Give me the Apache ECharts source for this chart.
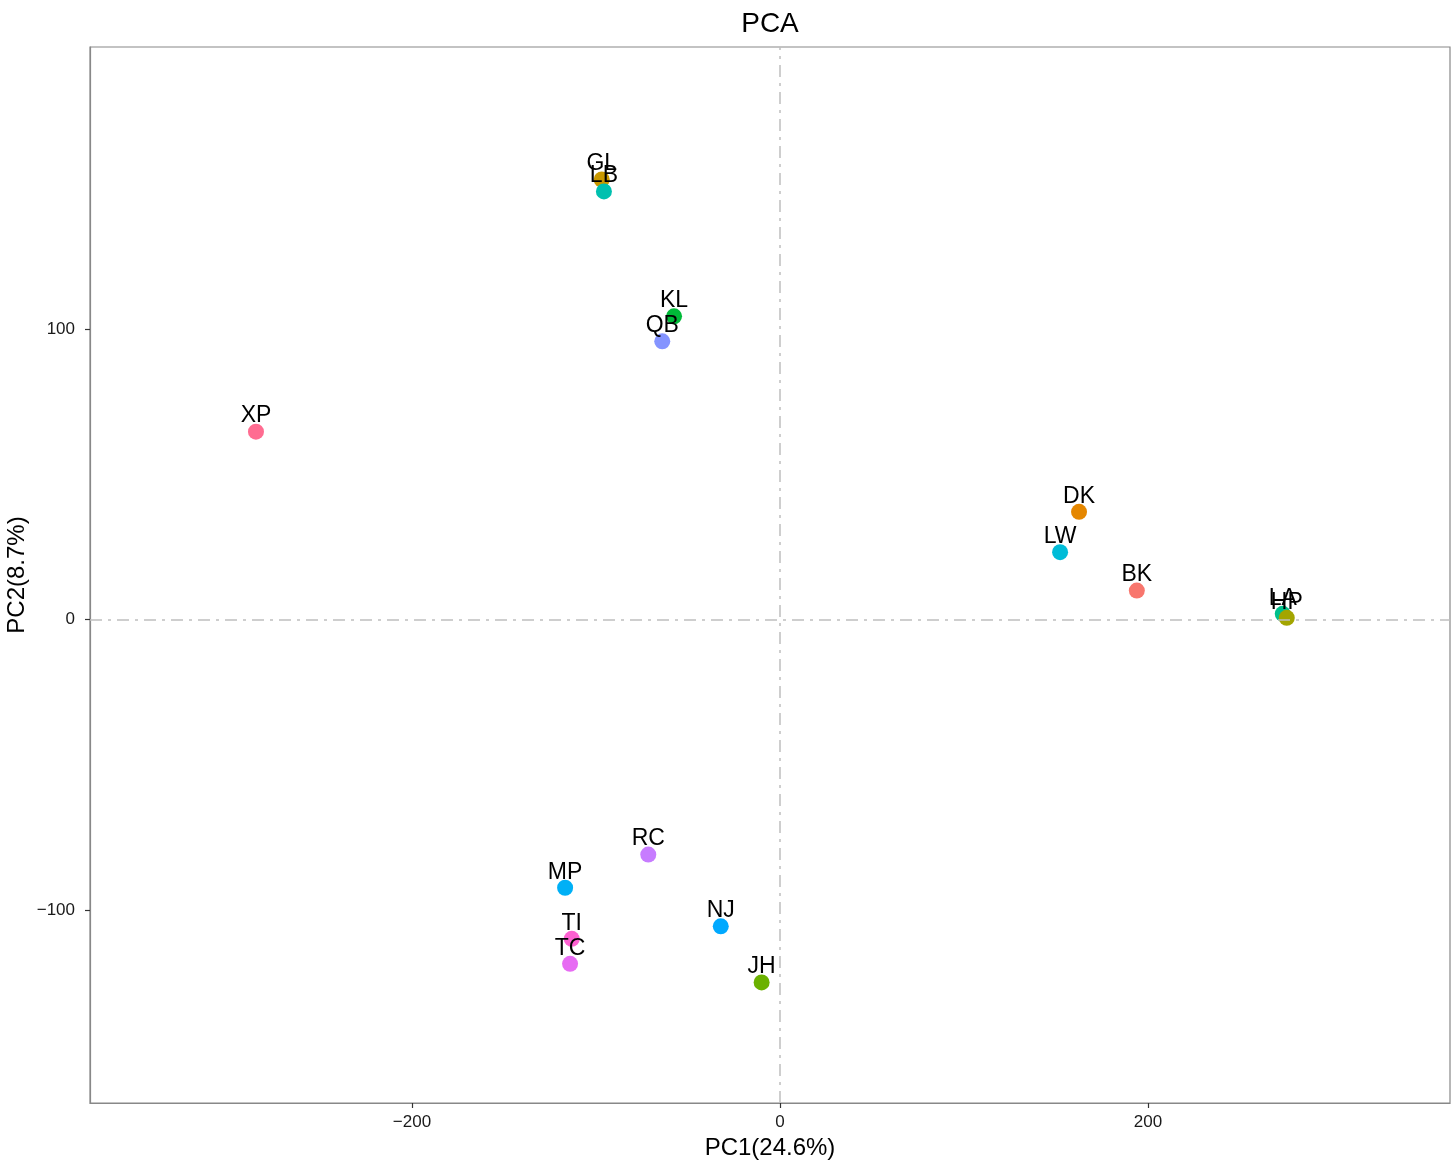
<!DOCTYPE html>
<html>
<head>
<meta charset="utf-8">
<script src="https://cdn.jsdelivr.net/npm/echarts@6/dist/echarts.min.js"></script>
<style>html,body{margin:0;padding:0;background:#fff}#c{width:1455px;height:1162px}</style>
</head>
<body>
<div id="c"></div>
<script>
const samples = ['BK','DK','GL','HP','JH','KL','LA','LB','LW','MP','NJ','QB','RC','TC','TI','XP'];
const pc1 = [193.9, 162.5, -96.9, 275.4, -10.0, -57.6, 273.2, -95.7, 152.2, -116.8, -32.2, -64.0, -71.6, -114.1, -113.2, -284.8];
const pc2 = [10.0, 37.1, 151.5, 0.6, -124.9, 104.4, 2.0, 147.4, 23.2, -92.3, -105.6, 95.8, -80.9, -118.5, -109.9, 64.7];
const palette = ['#F8766D','#E58700','#C99800','#A3A500','#6BB100','#00BA38','#00C08B','#00C0AF','#00BCD8','#00B0F6','#00A9FF','#8494FF','#C77CFF','#E76BF3','#FD61D1','#FF6C91'];
const xTicks = [-200, 0, 200];
const yTicks = [-100, 0, 100];
const drawOrder = [0,1,2,4,5,6,3,7,8,9,10,11,12,14,13,15];

const data = drawOrder.map(i => ({
  name: samples[i],
  value: [pc1[i], pc2[i]],
  itemStyle: {color: palette[i], opacity: 1}
}));

const fmt = v => String(v).replace('-', '\u2212');
const font = 'Liberation Sans, Arial, Helvetica, sans-serif';
const chart = echarts.init(document.getElementById('c'));
chart.setOption({
  animation: false,
  backgroundColor: '#fff',
  title: {text: 'PCA', left: 765, top: 5, textAlign: 'center',
    textStyle: {fontFamily: font, fontSize: 28, fontWeight: 'normal', color: '#000'}},
  grid: {left: 90, right: 5, top: 47, bottom: 59, show: true, borderColor: '#888', borderWidth: 1.2,
    backgroundColor: '#fff', containLabel: false, outerBoundsMode: 'none'},
  xAxis: {
    type: 'value', min: -375, max: 364.1,
    name: 'PC1(24.6%)', nameLocation: 'middle', nameGap: 33,
    nameTextStyle: {fontFamily: font, fontSize: 24, color: '#000'},
    axisLine: {show: true, onZero: false, lineStyle: {color: '#888', width: 1.2}},
    splitLine: {show: false},
    axisTick: {show: true, length: 5, lineStyle: {color: '#333', width: 1.2}, customValues: xTicks},
    axisLabel: {fontFamily: font, fontSize: 17, color: '#1a1a1a', margin: 11, customValues: xTicks, formatter: fmt}
  },
  yAxis: {
    type: 'value', min: -166.4, max: 197.1,
    name: 'PC2(8.7%)', nameLocation: 'middle', nameGap: 61, nameMoveOverlap: false,
    nameTextStyle: {fontFamily: font, fontSize: 24, color: '#000'},
    axisLine: {show: true, onZero: false, lineStyle: {color: '#888', width: 1.2}},
    splitLine: {show: false},
    axisTick: {show: true, length: 5, lineStyle: {color: '#333', width: 1.2}, customValues: yTicks},
    axisLabel: {fontFamily: font, fontSize: 17, color: '#1a1a1a', margin: 15, customValues: yTicks, formatter: fmt}
  },
  series: [{
    type: 'scatter',
    symbolSize: 16,
    itemStyle: {opacity: 1},
    data: data,
    label: {show: true, position: 'top', distance: -4, formatter: '{b}',
      fontFamily: font, fontSize: 23, color: '#000'},
    labelLayout: {hideOverlap: false},
    emphasis: {disabled: true},
    markLine: {
      silent: true, symbol: 'none', label: {show: false},
      lineStyle: {color: '#BEBEBE', width: 1.5, type: [12, 6, 3, 6]},
      data: [{xAxis: 0}, {yAxis: 0}]
    },
    z: 3
  }]
});
</script>
</body>
</html>
